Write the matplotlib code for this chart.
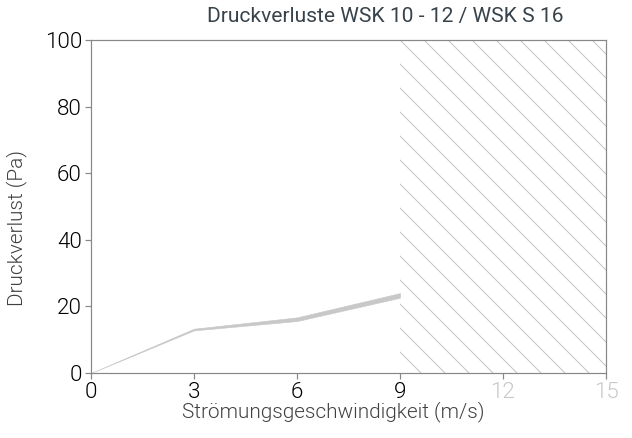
import matplotlib
matplotlib.use("Agg")
import matplotlib.pyplot as plt

# Daten
speed = [0, 3, 6, 9]
loss_low = [0, 12.8, 15.6, 22.6]
loss_high = [0, 13.3, 16.7, 24.0]
x_ticks = [0, 3, 6, 9, 12, 15]
y_ticks = [0, 20, 40, 60, 80, 100]
hatch_from = 9

plt.rcParams['font.family'] = ['Roboto', 'DejaVu Sans']
plt.rcParams['hatch.linewidth'] = 0.5

fig = plt.figure(figsize=(632 / 144, 438 / 144), dpi=144)
ax = fig.add_axes([91 / 632, 1 - 373 / 438, 515 / 632, 333 / 438])

# schraffierter Bereich (nicht gueltig)
ax.axvspan(hatch_from, x_ticks[-1], facecolor='none', edgecolor='#c4c4c4',
           hatch='\\\\', linewidth=0)

# Band der Druckverluste
ax.fill_between(speed, loss_low, loss_high, color='#c8c8c8', linewidth=0.3)

ax.set_xlim(0, 15)
ax.set_ylim(0, 100)
ax.set_xticks(x_ticks)
ax.set_yticks(y_ticks)
ax.tick_params(labelsize=11.2, length=3, width=0.6, color='#888888', pad=1.5)
for lbl, v in zip(ax.get_xticklabels(), x_ticks):
    lbl.set_color('#c8c8c8' if v > hatch_from else '#000000')
    lbl.set_fontweight(300)
for lbl in ax.get_yticklabels():
    lbl.set_color('#000000')
    lbl.set_fontweight(300)

for s in ax.spines.values():
    s.set_color('#888888')
    s.set_linewidth(0.6)

ax.set_title("Druckverluste WSK 10 - 12 / WSK S 16", fontsize=10.5,
             color='#37424a', pad=9, x=0.571)
ax.set_xlabel("Strömungsgeschwindigkeit (m/s)", fontsize=10.4, color='#404040',
              fontweight=300)
ax.xaxis.set_label_coords(0.47, -0.085)
ax.set_ylabel("Druckverlust (Pa)", fontsize=10.4, color='#404040',
              fontweight=300)
ax.yaxis.set_label_coords(-0.125, 0.435)

fig.savefig("out.png", dpi=144)
